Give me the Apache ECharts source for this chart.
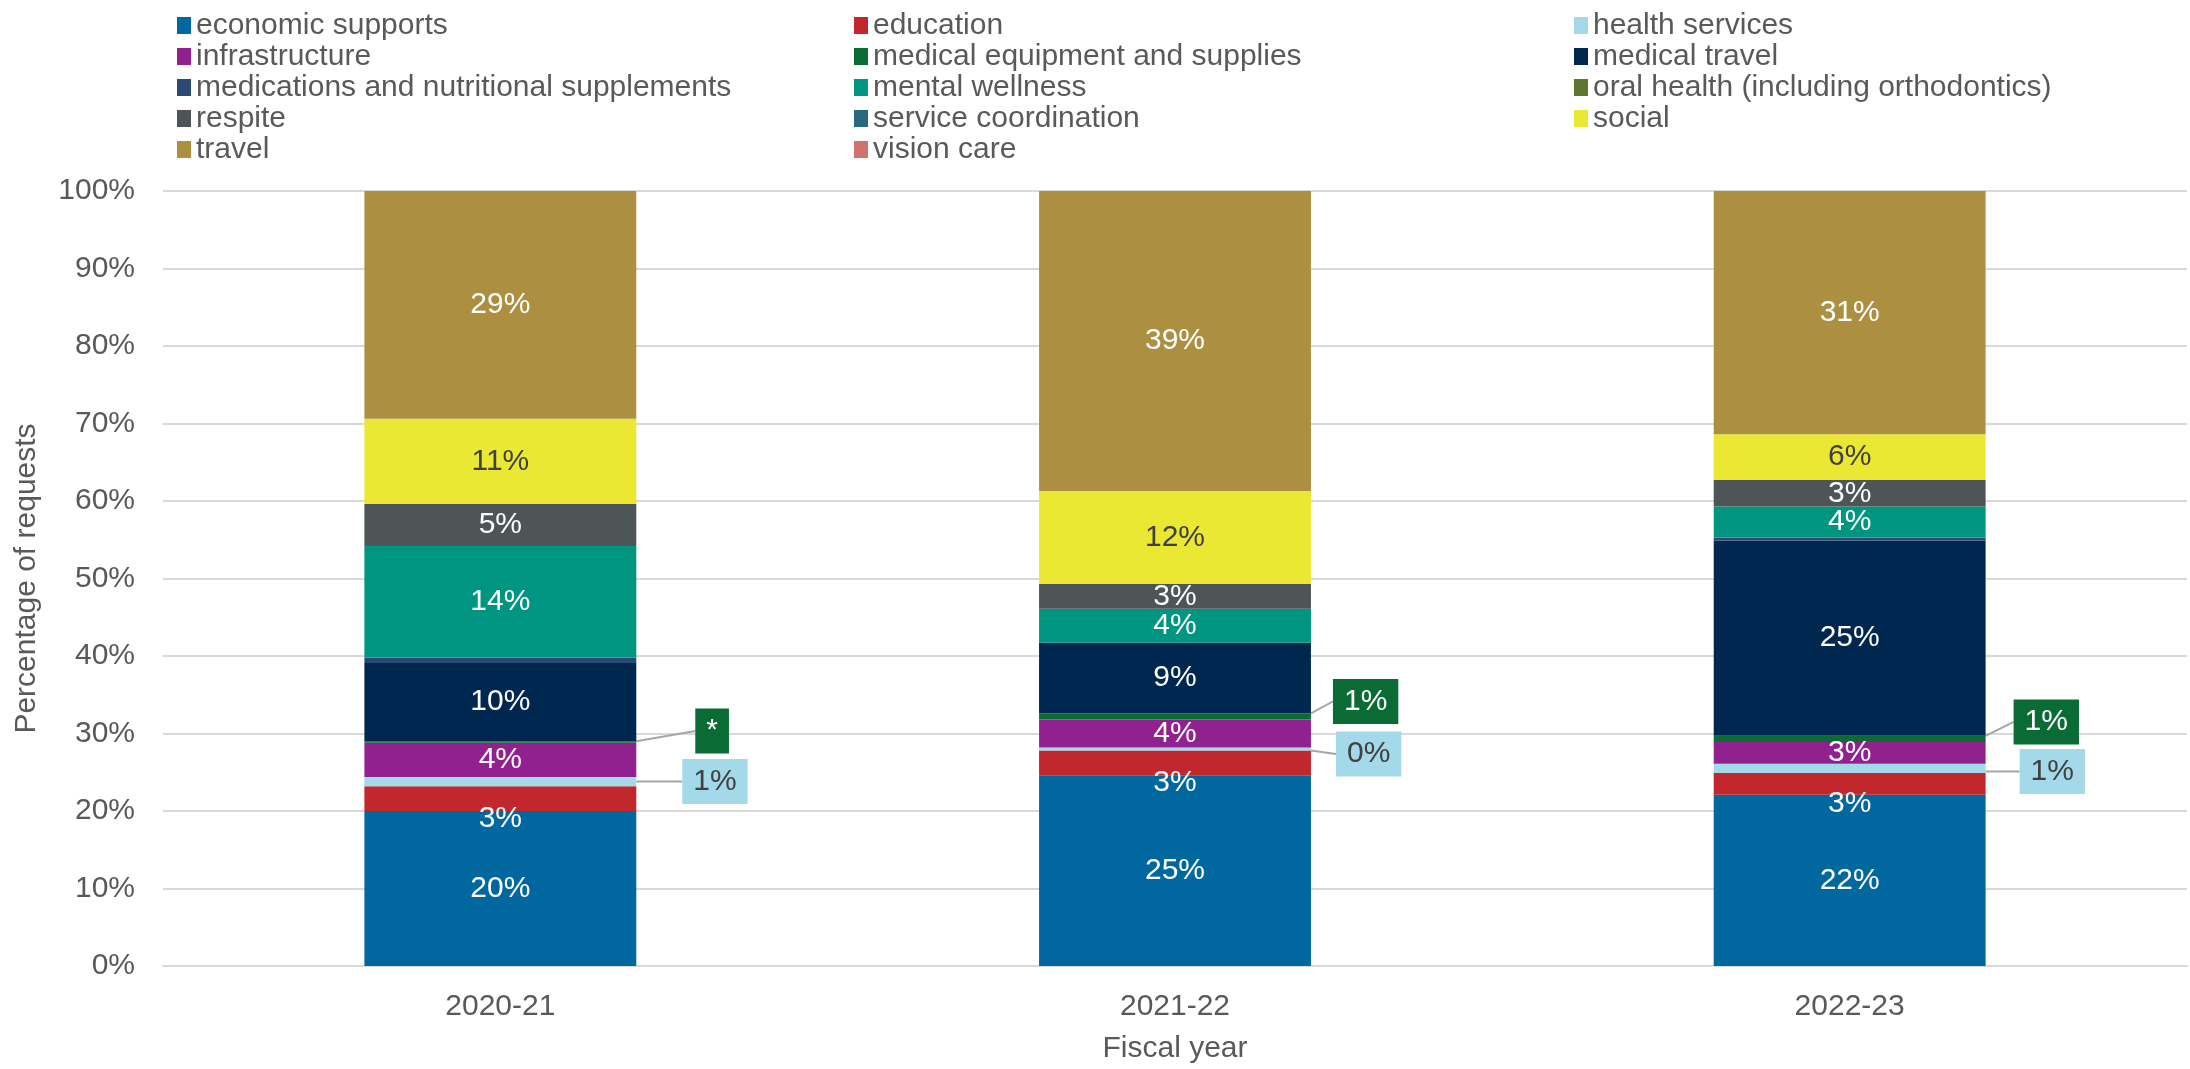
<!DOCTYPE html>
<html>
<head>
<meta charset="utf-8">
<title>Requests by category and fiscal year</title>
<script src="https://cdn.jsdelivr.net/npm/echarts@6/dist/echarts.min.js"></script>
<style>
  html, body { margin: 0; padding: 0; background: #ffffff; }
  #chart { width: 2190px; height: 1069px; }
</style>
</head>
<body>
<div id="chart"></div>
<script>
// Share of requests (%) by category, one value per fiscal year
const categories = ['2020-21', '2021-22', '2022-23'];

const economicSupports    = [20.0, 24.6, 22.1];
const education           = [3.2, 3.2, 2.8];
const healthServices      = [1.2, 0.4, 1.2];
const infrastructure      = [4.4, 3.6, 2.8];
const medicalEquipment    = [0.2, 0.8, 0.8];
const medicalTravel       = [10.1, 9.1, 25.2];
const medications         = [0.7, 0, 0.4];
const mentalWellness      = [14.4, 4.4, 4.0];
const oralHealth          = [0, 0, 0];
const respite             = [5.4, 3.2, 3.4];
const serviceCoordination = [0, 0, 0];
const social              = [11.0, 12.0, 5.9];
const travel              = [29.4, 38.7, 31.4];
const visionCare          = [0, 0, 0];

// Values too small to report are shown with a marker instead of a number
const medicalEquipmentNotes = ['*', '', ''];

const yTicks = [0, 10, 20, 30, 40, 50, 60, 70, 80, 90, 100];

const FONT = '"Liberation Sans", Arial, Helvetica, sans-serif';
const GREY_TEXT = '#595959';
const DARK_TEXT = '#404040';

// Offsets of the boxed call-outs from the right edge of each bar
const medicalEquipmentCallout = [{ dx: 59, dy: -11 }, { dx: 22, dy: -15 }, { dx: 28, dy: -17 }];
const healthServicesCallout   = [{ dx: 46, dy: 0 },   { dx: 25, dy: 5 },   { dx: 34, dy: 3 }];

const pct = v => Math.round(v) + '%';

function insideLabel(color, extra) {
  return Object.assign({
    show: true,
    position: 'inside',
    color: color,
    fontSize: 30,
    fontFamily: FONT,
    formatter: p => (p.value > 0 ? pct(p.value) : '')
  }, extra || {});
}

function calloutSeries(name, values, color, textColor, offsets, notes) {
  return {
    name: name,
    type: 'bar',
    stack: 'total',
    barWidth: '40.3%',
    itemStyle: { color: color },
    data: values,
    label: {
      show: true,
      position: 'right',
      distance: 0,
      color: textColor,
      fontSize: 30,
      fontFamily: FONT,
      backgroundColor: color,
      padding: [8, 11, 7, 11],
      formatter: p => (notes && notes[p.dataIndex]) ? notes[p.dataIndex] : pct(p.value)
    },
    labelLayout: p => ({ dx: offsets[p.dataIndex].dx, dy: offsets[p.dataIndex].dy }),
    labelLine: { show: true, lineStyle: { color: '#a6a6a6', width: 2 } }
  };
}

function plainSeries(name, values, color, label) {
  const s = {
    name: name,
    type: 'bar',
    stack: 'total',
    barWidth: '40.3%',
    itemStyle: { color: color },
    data: values
  };
  if (label) s.label = label;
  return s;
}

const series = [
  plainSeries('economic supports', economicSupports, '#00679f', insideLabel('#ffffff')),
  plainSeries('education', education, '#c1272d', insideLabel('#ffffff', { offset: [0, 20] })),
  calloutSeries('health services', healthServices, '#a3d9e8', DARK_TEXT, healthServicesCallout, null),
  plainSeries('infrastructure', infrastructure, '#922190', insideLabel('#ffffff')),
  calloutSeries('medical equipment and supplies', medicalEquipment, '#0a6b35', '#ffffff', medicalEquipmentCallout, medicalEquipmentNotes),
  plainSeries('medical travel', medicalTravel, '#00274f', insideLabel('#ffffff')),
  plainSeries('medications and nutritional supplements', medications, '#2b4a73'),
  plainSeries('mental wellness', mentalWellness, '#009580', insideLabel('#ffffff')),
  plainSeries('oral health (including orthodontics)', oralHealth, '#5f7531'),
  plainSeries('respite', respite, '#4e5557', insideLabel('#ffffff')),
  plainSeries('service coordination', serviceCoordination, '#2a687e'),
  plainSeries('social', social, '#ebe834', insideLabel(DARK_TEXT)),
  plainSeries('travel', travel, '#ad8f42', insideLabel('#ffffff')),
  plainSeries('vision care', visionCare, '#cf7270')
];

// Legend laid out in three aligned columns, filled row by row
const names = series.map(s => s.name);
const columns = [[], [], []];
names.forEach((n, i) => columns[i % 3].push(n));
const columnLeft = [172, 849, 1569];

const legends = columns.map((col, i) => ({
  data: col,
  orient: 'vertical',
  left: columnLeft[i],
  top: 5,
  itemGap: 0,
  itemWidth: 14,
  itemHeight: 17,
  icon: 'rect',
  itemStyle: { borderWidth: 0 },
  textStyle: { color: GREY_TEXT, fontSize: 30, fontFamily: FONT, lineHeight: 31, padding: [0, 0, 0, 0] }
}));

const option = {
  animation: false,
  backgroundColor: '#ffffff',
  textStyle: { fontFamily: FONT },
  legend: legends,
  grid: { left: 163, right: 3, top: 191, bottom: 100 },
  xAxis: {
    type: 'category',
    data: categories,
    axisTick: { show: false },
    axisLine: { lineStyle: { color: '#d9d9d9', width: 2 } },
    axisLabel: { color: GREY_TEXT, fontSize: 30, fontFamily: FONT, margin: 26 },
    name: 'Fiscal year',
    nameLocation: 'middle',
    nameGap: 68,
    nameTextStyle: { color: GREY_TEXT, fontSize: 30, fontFamily: FONT }
  },
  yAxis: {
    type: 'value',
    min: yTicks[0],
    max: yTicks[yTicks.length - 1],
    interval: yTicks[1] - yTicks[0],
    axisLine: { show: false },
    axisTick: { show: false },
    splitLine: { lineStyle: { color: '#d9d9d9', width: 2 } },
    axisLabel: { color: GREY_TEXT, fontSize: 30, fontFamily: FONT, margin: 28, formatter: '{value}%' },
    name: 'Percentage of requests',
    nameLocation: 'middle',
    nameGap: 121,
    nameRotate: 90,
    nameTextStyle: { color: GREY_TEXT, fontSize: 30, fontFamily: FONT }
  },
  series: series
};

const chart = echarts.init(document.getElementById('chart'), null, { renderer: 'canvas' });
chart.setOption(option);
</script>
</body>
</html>
